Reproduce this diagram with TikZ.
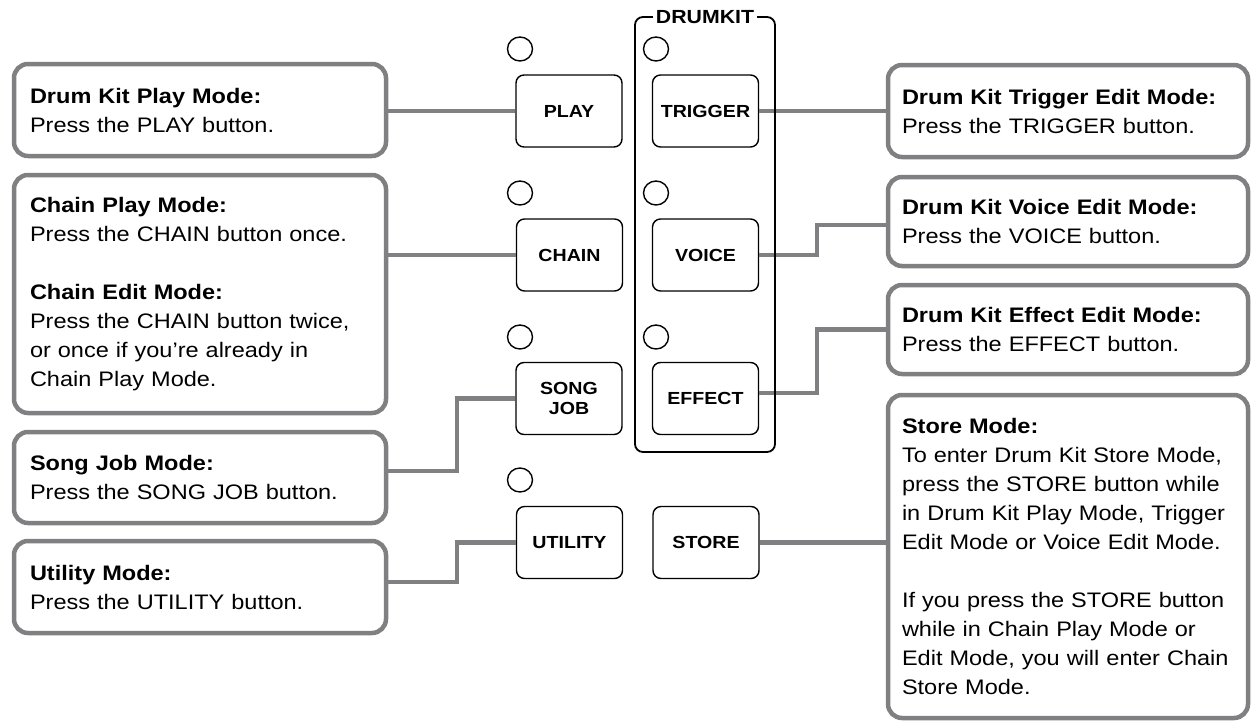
\documentclass[tikz,border=0pt]{standalone}
\usepackage{fontspec}
\setmainfont{Liberation Sans}[FakeStretch=1.12]
\definecolor{bgray}{RGB}{128,128,130}
\tikzset{
 gbox/.style={draw=bgray, line width=4.5pt, rounded corners=14pt, fill=white, align=left, inner xsep=16pt, inner ysep=0pt, font=\fontsize{21}{29}\selectfont},
 lbox/.style={gbox, text width=340pt, minimum width=372pt},
 rbox/.style={gbox, text width=332pt, minimum width=360pt, inner xsep=14pt},
 btn/.style={draw=black, line width=1.4pt, rounded corners=8pt, fill=white, minimum width=106pt, minimum height=72pt, inner sep=0pt, align=center, font=\bfseries\fontsize{17.5}{20.5}\selectfont},
 led/.style={ellipse, draw=black, line width=1.4pt, minimum width=25pt, minimum height=24pt, inner sep=0pt},
 conn/.style={draw=bgray, line width=4.5pt},
 frame/.style={draw=black, line width=1.8pt, rounded corners=8pt},
}
\usetikzlibrary{shapes.geometric}
\begin{document}
\begin{tikzpicture}[x=1pt,y=-1pt]
\useasboundingbox (0,0) rectangle (1257,723);

% left boxes
\node[lbox, minimum height=92pt] (b1) at (200,110) {\textbf{Drum Kit Play Mode:}\\Press the PLAY button.};
\node[lbox, minimum height=238pt] (b2) at (200,294) {\textbf{Chain Play Mode:}\\Press the CHAIN button once.\\[29pt]\textbf{Chain Edit Mode:}\\Press the CHAIN button twice,\\or once if you’re already in\\Chain Play Mode.};
\node[lbox, minimum height=91pt] (b3) at (200,477.5) {\textbf{Song Job Mode:}\\Press the SONG JOB button.};
\node[lbox, minimum height=92pt] (b4) at (200,587) {\textbf{Utility Mode:}\\Press the UTILITY button.};

% right boxes
\node[rbox, minimum height=92pt] (b5) at (1068,111) {\textbf{Drum Kit Trigger Edit Mode:}\\Press the TRIGGER button.};
\node[rbox, minimum height=89pt] (b6) at (1068,221.5) {\textbf{Drum Kit Voice Edit Mode:}\\Press the VOICE button.};
\node[rbox, minimum height=89pt] (b7) at (1068,329.5) {\textbf{Drum Kit Effect Edit Mode:}\\Press the EFFECT button.};
\node[rbox, minimum height=323pt] (b8) at (1068,556.5) {\textbf{Store Mode:}\\To enter Drum Kit Store Mode,\\press the STORE button while\\in Drum Kit Play Mode, Trigger\\Edit Mode or Voice Edit Mode.\\[29pt]If you press the STORE button\\while in Chain Play Mode or\\Edit Mode, you will enter Chain\\Store Mode.};

% buttons
\node[btn] (play) at (569,111) {PLAY};
\node[btn] (trigger) at (705.5,111) {TRIGGER};
\node[btn] (chain) at (569.5,255) {CHAIN};
\node[btn] (voice) at (705.5,255) {VOICE};
\node[btn] (songjob) at (569,398.5) {SONG\\JOB};
\node[btn] (effect) at (705.5,398.5) {EFFECT};
\node[btn] (utility) at (569.5,542.5) {UTILITY};
\node[btn] (store) at (706,542.5) {STORE};

% elbow points
\coordinate (s1) at (457,471);
\coordinate (u1) at (457,582);
\coordinate (v1) at (817,225);
\coordinate (e1) at (817,393);

% connectors
\draw[conn] (b1.east |- play.west) -- (play.west);
\draw[conn] (b2.east |- chain.west) -- (chain.west);
\draw[conn] (b3.east |- s1) -- (s1) |- (songjob.west);
\draw[conn] (b4.east |- u1) -- (u1) |- (utility.west);
\draw[conn] (trigger.east) -- (b5.west |- trigger.east);
\draw[conn] (voice.east) -| (v1) -- (b6.west |- v1);
\draw[conn] (effect.east |- e1) -- (e1) |- (b7.west);
\draw[conn] (store.east) -- (b8.west |- store.east);

% drumkit frame
\coordinate (fa) at (635,17);
\coordinate (fb) at (775,452);
\draw[frame] (fa) rectangle (fb);
\node[fill=white, inner xsep=3pt, inner ysep=1pt, font=\bfseries\fontsize{19}{19}\selectfont] (dk) at (705,17) {DRUMKIT};

% LEDs
\node[led] (l1) at (520,49) {};
\node[led] (l2) at (656,49) {};
\node[led] (l3) at (520,193) {};
\node[led] (l4) at (656,193) {};
\node[led] (l5) at (520,337) {};
\node[led] (l6) at (656,337) {};
\node[led] (l7) at (520,480) {};
\end{tikzpicture}
\end{document}
